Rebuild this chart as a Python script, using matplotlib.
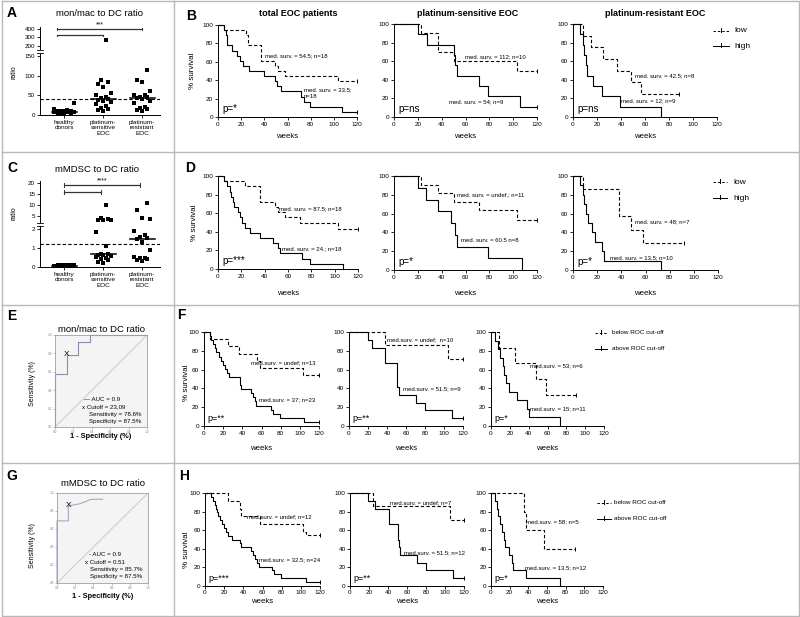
import numpy as np
import matplotlib
matplotlib.use('Agg')
import matplotlib.pyplot as plt
from matplotlib.lines import Line2D

plt.rcParams['font.family'] = ['Liberation Sans', 'DejaVu Sans']

# ---------------- data ----------------
# panel A / C: ratio per group
GROUPS = ['healthy\ndonors', 'platinum-\nsensitive\nEOC', 'platinum-\nresistant\nEOC']
A_HEALTHY = [30, 14, 12, 11, 10, 10, 9, 8, 8, 7, 6, 5, 5, 4]
A_SENS = [270, 90, 85, 80, 72, 55, 50, 45, 42, 40, 38, 36, 33, 28, 22, 18, 15, 12, 10]
A_RES = [115, 90, 85, 60, 52, 50, 47, 45, 44, 40, 35, 30, 20, 18, 16, 12, 10]
A_CUTOFF = 41

C_HEALTHY = [0.12, 0.1, 0.1, 0.09, 0.08, 0.08, 0.07, 0.07, 0.06, 0.06, 0.05, 0.05]
C_SENS = [10, 4, 3.5, 3.3, 3, 3, 1.85, 1.1, 0.7, 0.68, 0.65, 0.62, 0.6, 0.55, 0.5, 0.4, 0.35, 0.25, 0.2]
C_RES = [11, 7.5, 4, 3.5, 1.9, 1.7, 1.6, 1.55, 1.5, 1.3, 0.9, 0.55, 0.5, 0.45, 0.4, 0.35, 0.3]
C_CUTOFF = 1.22

KM_TITLES = ['total EOC patients', 'platinum-sensitive EOC', 'platinum-resistant EOC']

# row B: mon/mac to DC ratio, low vs high (total, sensitive, resistant)
B_LOW_T = [[5, 24, 26, 37, 37.5, 49, 52, 58, 104], [23, 37, 50, 103], [8, 15, 25, 37, 48, 57]]
B_LOW_S = [[94.4, 88.9, 77.8, 66.7, 61.1, 55.6, 50, 44.4, 38.9], [90, 70, 60, 50], [87.5, 75, 62.5, 50, 37.5, 25]]
B_LOW_END = [120, 120, 88]
B_HIGH_T = [[5, 7, 8, 12, 16, 19, 22, 27, 40, 49, 51, 54, 72, 74, 79, 107],
            [20, 28, 50, 51.5, 53, 71, 79, 106],
            [5.5, 8, 9, 11, 12, 17, 24, 39, 73]]
B_HIGH_S = [[94.4, 88.9, 77.8, 72.2, 66.7, 61.1, 55.6, 50, 44.4, 38.9, 33.3, 27.8, 22.2, 16.7, 11.1, 5.6],
            [88.9, 77.8, 66.7, 55.6, 44.4, 33.3, 22.2, 11.1],
            [88.9, 77.8, 66.7, 55.6, 44.4, 33.3, 22.2, 11.1, 0]]
B_HIGH_END = [120, 120, 73]
B_LOW_TXT = ['med. surv. = 54.5; n=18', 'med. surv. = 112; n=10', 'med. surv. = 42.5; n=8']
B_HIGH_TXT = ['med. surv. = 33.5;\nn=18', 'med. surv. = 54; n=9', 'med. surv. = 12; n=9']
B_P = ['p=*', 'p=ns', 'p=ns']

# row D: mMDSC to DC ratio, low vs high
D_LOW_T = [[5, 23, 36, 49, 51, 57, 70, 103], [23, 37, 50, 71, 103], [8, 38, 48, 58]]
D_LOW_S = [[94.4, 88.9, 72.2, 66.7, 61.1, 55.6, 50, 43.3], [90.9, 81.8, 72.7, 63.6, 53], [85.7, 57.1, 42.9, 28.6]]
D_LOW_END = [120, 120, 92]
D_HIGH_T = [[5, 8, 10, 11, 13, 14, 17, 18.5, 20.5, 23, 27, 36, 47, 51, 53, 72, 79, 107],
            [20, 27, 37, 48, 51, 53, 79, 107],
            [5.5, 8, 9, 11, 12.5, 16, 18, 24, 26, 73]]
D_HIGH_S = [[94.4, 88.9, 83.3, 77.8, 72.2, 66.7, 61.1, 55.6, 50, 44.4, 38.9, 33.3, 27.8, 22.2, 16.7, 11.1, 5.6, 0],
            [87.5, 75, 62.5, 50, 37.5, 25, 12.5, 0],
            [90, 80, 70, 60, 50, 40, 30, 20, 10, 0]]
D_HIGH_END = [107, 107, 73]
D_LOW_TXT = ['med. surv. = 87.5; n=18', 'med. surv. = undef.; n=11', 'med. surv. = 48; n=7']
D_HIGH_TXT = ['med. surv. = 24.; n=18', 'med. surv. = 60.5 n=8', 'med. surv. = 13.5; n=10']
D_P = ['p=***', 'p=*', 'p=*']

# row F: mon/mac ratio, below vs above ROC cut-off
F_LOW_T = [[6, 25, 36.5, 55, 58, 103], [37.5, 104], [8, 25, 48, 58.6]]
F_LOW_S = [[92.3, 84.6, 76.9, 69.2, 61.5, 53.8], [85.7, 71.4], [83.3, 66.7, 50, 33.3]]
F_LOW_END = [120, 120, 90]
F_HIGH_T = [[6, 7.6, 9.4, 11, 13, 15.6, 17.4, 20, 21.6, 24, 26, 38, 39, 49, 51, 53, 54, 70, 72, 79, 104],
            [20, 24.5, 37.5, 51, 53, 71, 79.6, 108],
            [4.6, 7, 10, 12.4, 14, 16, 18.7, 27.5, 38, 40, 73.5]]
F_HIGH_S = [[95.7, 91.3, 87, 82.6, 78.3, 73.9, 69.6, 65.2, 60.9, 56.5, 52.2, 43.5, 39.1, 34.8, 30.4, 26.1, 21.7,
             17.4, 13, 8.7, 4.3],
            [91.7, 83.3, 66.7, 41.7, 33.3, 25, 16.7, 8.3],
            [90.9, 81.8, 72.7, 63.6, 54.5, 45.5, 36.4, 27.3, 18.2, 9.1, 0]]
F_HIGH_END = [120, 120, 73.5]
F_LOW_TXT = ['med.surv. = undef; n=13', 'med.surv. = undef;  n=10', 'med.surv. = 53; n=6']
F_HIGH_TXT = ['med.surv. = 37; n=23', 'med.surv. = 51.5; n=9', 'med.surv. = 15; n=11']
F_P = ['p=**', 'p=**', 'p=*']

# row H: mMDSC ratio, below vs above ROC cut-off
H_LOW_T = [[24, 36.5, 37.5, 57, 102.6, 105], [24, 105], [35.5, 38, 57]]
H_LOW_S = [[91.7, 83.3, 75, 66.7, 58.3, 55], [85.7, 71.4], [80, 60, 40]]
H_LOW_END = [120, 120, 90]
H_HIGH_T = [[6, 8, 10, 12, 13, 14, 16, 18, 20, 22, 24, 28, 37, 37.5, 48, 50, 52, 54, 56, 70, 72, 79, 105],
            [19, 26, 41, 50, 51, 52, 53, 70, 79.6, 108],
            [4.6, 6.4, 8, 10, 12, 13.5, 15, 19, 22, 24, 37.6, 73.8]]
H_HIGH_S = [[95.8, 91.7, 87.5, 83.3, 79.2, 75, 70.8, 66.7, 62.5, 58.3, 54.2, 50, 45.8, 41.7, 37.5, 33.3, 29.2,
             25, 20.8, 16.7, 12.5, 8.3, 4.2],
            [91.7, 83.3, 66.7, 58.3, 50, 41.7, 33.3, 25, 16.7, 8.3],
            [91.7, 83.3, 75, 66.7, 58.3, 50, 41.7, 33.3, 25, 16.7, 8.3, 0]]
H_HIGH_END = [120, 120, 73.8]
H_LOW_TXT = ['med.surv. = undef; n=12', 'med.surv. = undef; n=7', 'med.surv. = 58; n=5']
H_HIGH_TXT = ['med.surv. = 32.5; n=24', 'med.surv. = 51.5; n=12', 'med.surv. = 13.5; n=12']
H_P = ['p=***', 'p=**', 'p=*']

# ROC curves (E: mon/mac, G: mMDSC)
E_FPR = [0, 0, 0.125, 0.125, 0.25, 0.25, 0.375, 0.375, 1.0]
E_TPR = [0, 0.571, 0.571, 0.786, 0.786, 0.929, 0.929, 1.0, 1.0]
E_CUT = (0.125, 0.786)
E_TXT = ['\u2014 AUC = 0.9', 'x Cutoff = 23,09', 'Sensitivity = 78.6%', 'Specificity = 87.5%']
G_FPR = [0, 0, 0.125, 0.125, 0.25, 0.375, 0.5]
G_TPR = [0, 0.69, 0.69, 0.857, 0.88, 0.93, 0.93]
G_CUT = (0.125, 0.857)
G_TXT = ['- AUC = 0.9', 'x Cutoff = 0.51', 'Sensitivity = 85.7%', 'Specificity = 87.5%']

# ---------------- helpers ----------------
W, H = 800, 617
fig = plt.figure(figsize=(W / 100, H / 100), dpi=100)


def px_axes(x0, y0, x1, y1):
    return fig.add_axes([x0 / W, 1 - y1 / H, (x1 - x0) / W, (y1 - y0) / H])


def ftext(x, y, s, **kw):
    kw.setdefault('ha', 'center')
    kw.setdefault('va', 'center')
    fig.text(x / W, 1 - y / H, s, **kw)


def fline(xs, ys, **kw):
    fig.add_artist(Line2D([x / W for x in xs], [1 - y / H for y in ys],
                          transform=fig.transFigure, **kw))


def spread(vals, width):
    # deterministic beeswarm-ish offsets
    pattern = [0, -1, 1, -0.5, 0.5, -1.5, 1.5]
    order = np.argsort(vals)
    off = np.zeros(len(vals))
    for k, i in enumerate(order):
        off[i] = pattern[k % len(pattern)] * width
    return off


def dot_panel(ax_hi, ax_lo, groups, split, cutoff):
    for i, vals in enumerate(groups):
        vals = np.asarray(vals, float)
        xs = i + spread(vals, 0.13 if i else 0.17)
        hi = vals > split
        ax_lo.plot(xs[~hi], vals[~hi], 's', color='k', ms=2.6, mew=0, clip_on=False)
        ax_hi.plot(xs[hi], vals[hi], 's', color='k', ms=2.6, mew=0, clip_on=False)
        med = np.median(vals)
        (ax_hi if med > split else ax_lo).plot([i - 0.32, i + 0.32], [med, med], color='k', lw=1.1)
    ax_lo.axhline(cutoff, color='k', ls=(0, (3, 2)), lw=0.8)
    for ax in (ax_hi, ax_lo):
        ax.set_xlim(-0.62, 2.46)
        for sp in ('top', 'right'):
            ax.spines[sp].set_visible(False)
        ax.tick_params(labelsize=4.5, length=2, width=0.6, pad=1.5)
        ax.spines['left'].set_linewidth(0.7)
    ax_hi.spines['bottom'].set_visible(False)
    ax_hi.set_xticks([])
    ax_lo.spines['bottom'].set_linewidth(0.7)
    ax_lo.set_xticks(range(3))
    ax_lo.set_xticklabels(GROUPS, fontsize=4.6, linespacing=1.15)


def sig_bar(ax, x0, x1, y, h, label=None):
    ax.plot([x0, x1], [y, y], color='#333333', lw=0.9, clip_on=False)
    ax.plot([x0, x0], [y - h, y + h], color='#333333', lw=0.7, clip_on=False)
    ax.plot([x1, x1], [y - h, y + h], color='#333333', lw=0.7, clip_on=False)
    if label:
        ax.text((x0 + x1) / 2, y + h * 0.4, label, ha='center', va='bottom', fontsize=4.8)


def km_curve(ax, t, s, end, dashed):
    xs = [0] + list(t) + [end]
    ys = [100] + list(s) + [s[-1]]
    ls = (0, (3, 2)) if dashed else '-'
    ax.step(xs, ys, where='post', color='k', lw=0.8, ls=ls, clip_on=False)
    if s[-1] > 0:
        ax.plot([end], [s[-1]], marker='|', color='k', ms=3, mew=0.7, clip_on=False)


def km_row(boxes, low_t, low_s, low_end, high_t, high_s, high_end,
           low_txt, high_txt, low_pos, high_pos, pvals, pfs, weeks_y, pad=1.5):
    axes = []
    for j, (x0, y0, x1, y1) in enumerate(boxes):
        ax = px_axes(x0, y0, x1, y1)
        km_curve(ax, low_t[j], low_s[j], low_end[j], True)
        km_curve(ax, high_t[j], high_s[j], high_end[j], False)
        ax.set_xlim(0, 120)
        ax.set_ylim(0, 100)
        ax.set_xticks(range(0, 121, 20))
        ax.set_yticks(range(0, 101, 20))
        for sp in ('top', 'right'):
            ax.spines[sp].set_visible(False)
        for sp in ('left', 'bottom'):
            ax.spines[sp].set_linewidth(0.7)
        ax.tick_params(labelsize=4.6, length=2, width=0.6, pad=pad)
        ax.text(low_pos[j][0], low_pos[j][1], low_txt[j], fontsize=4.3, va='center')
        ax.text(high_pos[j][0], high_pos[j][1], high_txt[j], fontsize=4.3, va='center', linespacing=1.3)
        ax.text(4, 3, pvals[j], fontsize=pfs, va='bottom')
        ftext((x0 + x1) / 2, weeks_y, 'weeks', fontsize=5.6)
        axes.append(ax)
    return axes


def legend(x0, x1, xt, ys, labels, fs):
    for y, lab, dashed in zip(ys, labels, (True, False)):
        fline([x0, x1], [y, y], color='k', lw=0.7, ls=(0, (2.5, 2)) if dashed else '-')
        xm = (x0 + x1) / 2
        fline([xm, xm], [y - 3, y + 0.5], color='k', lw=0.7)
        ftext(xt, y, lab, fontsize=fs, ha='left')


def roc_panel(box, fpr, tpr, cut, lines, tx, ty, col):
    ax = px_axes(*box)
    ax.set_facecolor('#f4f4f4')
    ax.plot([0, 1], [0, 1], color='#c8cfd9', lw=0.8)
    ax.plot(fpr, tpr, color=col, lw=0.8, clip_on=False)
    ax.text(cut[0], cut[1], 'X', ha='center', va='center', fontsize=6)
    for s, x, y in zip(lines, tx, ty):
        ax.text(x, y, s, fontsize=4.4, transform=ax.transAxes, va='center')
    ax.set_xlim(0, 1)
    ax.set_ylim(0, 1)
    ticks = np.linspace(0, 1, 6)
    ax.set_xticks(ticks)
    ax.set_yticks(ticks)
    ax.set_xticklabels(['%.1f' % v for v in ticks])
    ax.set_yticklabels(['%.1f' % v for v in ticks])
    ax.tick_params(labelsize=2.3, length=1.2, width=0.4, pad=1, colors='#888888')
    for sp in ax.spines.values():
        sp.set_color('#a0a0a0')
        sp.set_linewidth(0.6)
    return ax


# ---------------- frame / separators ----------------
sep = dict(color='#b8b8b8', lw=1.0)
fline([1.5, 798.5, 798.5, 1.5, 1.5], [1, 1, 615.5, 615.5, 1], **sep)
fline([1.5, 798.5], [152, 152], **sep)
fline([1.5, 798.5], [305, 305], **sep)
fline([1.5, 798.5], [463, 463], **sep)
fline([174, 174], [1, 615.5], **sep)

# ---------------- panel A ----------------
a_hi = px_axes(40, 27, 160, 49)
a_lo = px_axes(40, 53, 160, 115)
a_hi.set_ylim(164.7, 423.5)
a_hi.set_yticks([200, 300, 400])
a_lo.set_ylim(0, 157.6)
a_lo.set_yticks([0, 50, 100, 150])
dot_panel(a_hi, a_lo, [A_HEALTHY, A_SENS, A_RES], 160, A_CUTOFF)
sig_bar(a_hi, -0.18, 2, 400, 10, '***')
sig_bar(a_hi, -0.18, 1, 325, 10)
fline([37, 43], [49.5, 49.5], color='k', lw=0.6)
fline([37, 43], [52.5, 52.5], color='k', lw=0.6)
ftext(100, 14, 'mon/mac to DC ratio', fontsize=6.8)
ftext(14, 72, 'ratio', fontsize=5, rotation=90)
ftext(12, 13, 'A', fontsize=10, fontweight='bold')

# ---------------- panel C ----------------
c_hi = px_axes(40, 181, 160, 222)
c_lo = px_axes(40, 226, 160, 267)
c_hi.set_ylim(2.27, 20.9)
c_hi.set_yticks([5, 10, 15, 20])
c_lo.set_ylim(0, 2.16)
c_lo.set_yticks([0, 1, 2])
dot_panel(c_hi, c_lo, [C_HEALTHY, C_SENS, C_RES], 2.0, C_CUTOFF)
sig_bar(c_hi, 0.0, 1.95, 19.1, 0.8, '****')
sig_bar(c_hi, 0.0, 0.95, 15.9, 0.8)
fline([37, 43], [222.5, 222.5], color='k', lw=0.6)
fline([37, 43], [225.5, 225.5], color='k', lw=0.6)
ftext(97, 170, 'mMDSC to DC ratio', fontsize=6.8)
ftext(14, 213, 'ratio', fontsize=5, rotation=90)
ftext(12, 168, 'C', fontsize=10, fontweight='bold')

# ---------------- panel E / G (ROC) ----------------
roc_panel((55, 335, 147, 427), E_FPR, E_TPR, E_CUT, E_TXT,
          [0.32, 0.29, 0.37, 0.37], [0.30, 0.22, 0.14, 0.06], '#8a8fb0')
ftext(101, 329, 'mon/mac to DC ratio', fontsize=6.8)
ftext(32, 383, 'Sensitivity (%)', fontsize=5, rotation=90)
ftext(101, 437, '1 - Specificity (%)', fontsize=5.3, fontweight='bold')
ftext(12, 316, 'E', fontsize=10, fontweight='bold')

roc_panel((57, 493, 148, 583), G_FPR, G_TPR, G_CUT, G_TXT,
          [0.35, 0.31, 0.36, 0.36], [0.32, 0.23, 0.15, 0.07], '#a3aac2')
ftext(103, 483, 'mMDSC to DC ratio', fontsize=6.8)
ftext(32, 545, 'Sensitivity (%)', fontsize=5, rotation=90)
ftext(103, 596, '1 - Specificity (%)', fontsize=5.3, fontweight='bold')
ftext(12, 476, 'G', fontsize=10, fontweight='bold')

# ---------------- row B ----------------
b_axes = km_row([(218, 25, 357, 117), (394, 24, 537, 117), (573, 24, 717, 117)],
                B_LOW_T, B_LOW_S, B_LOW_END, B_HIGH_T, B_HIGH_S, B_HIGH_END,
                B_LOW_TXT, B_HIGH_TXT,
                [(40.5, 67), (59.5, 65), (51.5, 44.5)],
                [(74, 26), (46, 16), (40, 17.5)],
                B_P, 7, 136)
for ax, title, x in zip(b_axes, KM_TITLES, (298, 468, 655)):
    ftext(x, 13, title, fontsize=6.5, fontweight='bold')
ftext(193, 71, '% survival', fontsize=5.8, rotation=90)
ftext(191, 16, 'B', fontsize=10, fontweight='bold')
legend(713, 729, 734, [31, 46], ['low', 'high'], 6)

# ---------------- row D ----------------
km_row([(218, 176, 358, 269), (394, 176, 537, 270), (573, 176, 718, 270)],
       D_LOW_T, D_LOW_S, D_LOW_END, D_HIGH_T, D_HIGH_S, D_HIGH_END,
       D_LOW_TXT, D_HIGH_TXT,
       [(52.5, 65), (52.5, 79.5), (51, 51.5)],
       [(55, 21.5), (56.5, 31), (30.5, 13.5)],
       D_P, 7, 293)
ftext(195, 223, '% survival', fontsize=5.8, rotation=90)
ftext(190, 168, 'D', fontsize=10, fontweight='bold')
legend(713, 727, 733, [182, 198], ['low', 'high'], 6)

# ---------------- row F ----------------
km_row([(204, 332, 319, 426), (349, 332, 463, 426), (491, 332, 604, 426)],
       F_LOW_T, F_LOW_S, F_LOW_END, F_HIGH_T, F_HIGH_S, F_HIGH_END,
       F_LOW_TXT, F_HIGH_TXT,
       [(49.5, 67), (40, 92), (41.5, 64)],
       [(57.5, 28), (57, 40), (41.5, 18.5)],
       F_P, 6.5, 448)
ftext(187, 383, '% survival', fontsize=5.8, rotation=90)
ftext(181, 315, 'F', fontsize=10, fontweight='bold')
legend(595, 607, 612, [333, 349], ['below ROC cut-off', 'above ROC cut-off'], 4.6)

# ---------------- row H ----------------
km_row([(205, 493, 320, 586), (350, 493, 464, 586), (491, 493, 603, 586)],
       H_LOW_T, H_LOW_S, H_LOW_END, H_HIGH_T, H_HIGH_S, H_HIGH_END,
       H_LOW_TXT, H_HIGH_TXT,
       [(43.5, 74), (42, 89), (38, 69)],
       [(56.5, 28), (57, 36), (36.5, 20)],
       H_P, 6.5, 601.5, pad=1.0)
ftext(187, 550, '% survival', fontsize=5.8, rotation=90)
ftext(184, 476, 'H', fontsize=10, fontweight='bold')
legend(597, 611, 614, [503, 519], ['below ROC cut-off', 'above ROC cut-off'], 4.6)

fig.savefig('out.png', dpi=100, facecolor='white')
